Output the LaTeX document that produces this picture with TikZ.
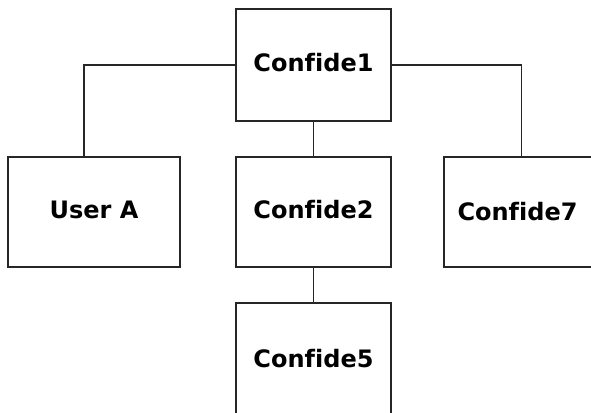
\documentclass[tikz,border=0pt]{standalone}
\usepackage{fontspec}
\setmainfont{DejaVu Sans}[Ligatures=NoCommon]
\begin{document}
\begin{tikzpicture}[x=1pt,y=1pt,
  box/.style={draw=black!85,line width=1.4pt,minimum width=155pt,minimum height=110pt,inner sep=0pt},
  lbl/.style={inner sep=0pt,font=\bfseries\fontsize{24}{28}\selectfont},
  link/.style={draw=black!85,line width=1.4pt}]
\useasboundingbox (0,0) rectangle (591,412);
\clip (0,0) rectangle (591,412);
\fill[white] (0,0) rectangle (591,412);
\node[box,minimum height=112pt] (c1) at (313.5,347) {};
\node[lbl] (t1) at (313.5,349) {Confide1};
\node[box,minimum width=172pt] (ua) at (94,200) {};
\node[lbl] (tua) at (94,202) {User A};
\node[box] (c2) at (313.5,200) {};
\node[lbl] (t2) at (313.5,202) {Confide2};
\node[box] (c7) at (521.5,200) {};
\node[lbl] (t7) at (517.5,200) {Confide7};
\node[box,minimum height=130pt] (c5) at (313.5,44) {};
\node[lbl] (t5) at (313.5,53) {Confide5};
\draw[link] (c1.west) -| ([xshift=-10pt]ua.north);
\draw[link] (c1.east) -| (c7.north);
\draw[link] (c1.south) -- (c2.north);
\draw[link] (c2.south) -- (c5.north);
\end{tikzpicture}
\end{document}
